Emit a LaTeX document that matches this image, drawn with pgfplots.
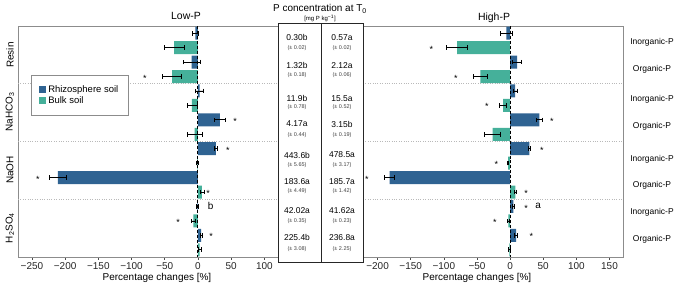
\documentclass[border=0pt]{standalone}
\usepackage{pgfplots}
\pgfplotsset{compat=1.18}
\usepackage{fontspec}
\setmainfont{Liberation Sans}
\definecolor{rhizo}{HTML}{2F6392}
\definecolor{bulk}{HTML}{45B09A}
\definecolor{framegray}{HTML}{8C8C8C}
\tikzset{ast/.style={font=\fontsize{9}{9}\selectfont, yshift=-1.5bp}}
\pgfplotsset{
  panel/.style={
    scale only axis, width=260bp, height=231bp,
    y dir=reverse, ymin=0, ymax=16,
    ytick=\empty,
    extra y ticks={4,8,12}, extra y tick labels={},
    extra y tick style={grid=major, major grid style={gray!55, dotted, line width=0.6pt}, major tick length=0pt},
    axis line style={framegray, line width=0.6pt},
    xtick pos=bottom, tick align=outside, major tick length=2.5bp,
    tick style={black!70, line width=0.5pt},
    xticklabel style={font=\fontsize{10}{12}\selectfont, text=black!85},
    xbar, bar width=0.9, bar shift=0pt,
    clip=false,
    legend image code/.code={\fill[##1] (0bp,-3.5bp) rectangle (7bp,3.5bp);},
  },
  err/.style={error bars/.cd, x dir=both, x explicit,
    error bar style={black, line width=0.8pt},
    error mark options={rotate=90, black, mark size=2.3bp, line width=0.8pt}},
}
\begin{document}
\begin{tikzpicture}
\useasboundingbox (0,0) rectangle (678bp,286bp);
% ---------- Low-P ----------
\begin{axis}[panel, at={(18bp,29bp)}, anchor=south west,
  xmin=-271, xmax=120.6,
  xtick={-250,-200,-150,-100,-50,0,50,100},
  xticklabels={−250,−200,−150,−100,−50,0,50,100},
  legend style={at={(0.05,0.788)}, anchor=north west, draw=framegray, line width=0.6pt,
    font=\fontsize{9.5}{10}\selectfont, inner xsep=8bp, inner ysep=8bp, row sep=-1bp},
  legend cell align=left]
\addplot[fill=rhizo, draw=none, err] coordinates {
 (-4,0.5) +- (5,0)
 (-9.5,2.5) +- (12.7,0)
 (2.5,4.5) +- (6,0)
 (33,6.5) +- (8,0)
 (27,8.5) +- (2,0)
 (-211,10.5) +- (13,0)
 (-1,12.5) +- (1,0)
 (5,14.5) +- (2,0)
};
\addlegendentry{Rhizosphere soil}
\addplot[fill=bulk, draw=none, err] coordinates {
 (-36,1.5) +- (15,0)
 (-39,3.5) +- (14.6,0)
 (-9,5.5) +- (7.5,0)
 (-5,7.5) +- (11,0)
 (-1,9.5) +- (1,0)
 (6,11.5) +- (3,0)
 (-7,13.5) +- (3,0)
 (2.5,15.5) +- (2,0)
};
\addlegendentry{Bulk soil}
\draw[black, line width=1.1pt, dash pattern=on 3pt off 2pt] (axis cs:0,0) -- (axis cs:0,16);
\node[ast] at (axis cs:-80,3.5) {*};
\node[ast] at (axis cs:56,6.5) {*};
\node[ast] at (axis cs:45,8.5) {*};
\node[ast] at (axis cs:-241,10.5) {*};
\node[ast] at (axis cs:15.5,11.5) {*};
\node[ast] at (axis cs:-30,13.5) {*};
\node[ast] at (axis cs:20,14.5) {*};
\node[font=\fontsize{10}{10}\selectfont] at (axis cs:19,12.45) {b};
\end{axis}
% ---------- High-P ----------
\begin{axis}[panel, at={(363bp,29bp)}, anchor=south west,
  xmin=-222, xmax=170.4,
  xtick={-200,-150,-100,-50,0,50,100,150},
  xticklabels={−200,−150,−100,−50,0,50,100,150}]
\addplot[fill=rhizo, draw=none, err] coordinates {
 (-5.5,0.5) +- (9,0)
 (10.5,2.5) +- (7,0)
 (7.5,4.5) +- (3,0)
 (44,6.5) +- (4,0)
 (29,8.5) +- (1.5,0)
 (-182,10.5) +- (7,0)
 (5,12.5) +- (2,0)
 (9,14.5) +- (2,0)
};
\addplot[fill=bulk, draw=none, err] coordinates {
 (-80,1.5) +- (16,0)
 (-45,3.5) +- (11,0)
 (-10.5,5.5) +- (5,0)
 (-26.5,7.5) +- (12,0)
 (-3,9.5) +- (1,0)
 (8,11.5) +- (2,0)
 (-2.5,13.5) +- (1,0)
 (-1,15.5) +- (1,0)
};
\draw[black, line width=1.1pt, dash pattern=on 3pt off 2pt] (axis cs:0,0) -- (axis cs:0,16);
\node[ast] at (axis cs:-119,1.5) {*};
\node[ast] at (axis cs:-82,3.5) {*};
\node[ast] at (axis cs:-35,5.5) {*};
\node[ast] at (axis cs:63,6.5) {*};
\node[ast] at (axis cs:48,8.5) {*};
\node[ast] at (axis cs:-20.6,9.5) {*};
\node[ast] at (axis cs:-216,10.5) {*};
\node[ast] at (axis cs:24,11.5) {*};
\node[ast] at (axis cs:24,12.5) {*};
\node[ast] at (axis cs:-23,13.5) {*};
\node[ast] at (axis cs:32,14.5) {*};
\node[font=\fontsize{10}{10}\selectfont] at (axis cs:42.5,12.45) {a};
\end{axis}
% ---------- centre table ----------
\draw[black!85, line width=0.8pt, fill=white] (278bp,24bp) rectangle (363bp,263bp);
\draw[black!85, line width=0.8pt] (321bp,24bp) -- (321bp,263bp);
\def\vf{\fontsize{8.5}{9}\selectfont}
\def\ef{\fontsize{5.5}{6}\selectfont\color{black!75}}
\foreach \a/\b/\c/\d/\yv/\ye in {
  0.30b/0.02/0.57a/0.02/37.7/47.7,
  1.32b/0.18/2.12a/0.06/65.3/75.3,
  11.9b/0.78/15.5a/0.52/98.3/107.3,
  4.17a/0.44/3.15b/0.19/124/134.7,
  443.6b/5.65/478.5a/3.17/155/165,
  183.6a/4.49/185.7a/1.42/181.3/190.7,
  42.02a/0.35/41.62a/0.23/210.7/221,
  225.4b/3.08/236.8a/2.25/237.3/249}{
  \node[font=\vf] at (297bp,{(286-\yv)*1bp}) {\a};
  \node[font=\ef] at (297bp,{(286-\ye)*1bp}) {(± \b)};
  \node[font=\vf] at (342bp,{(286-\yv)*1bp}) {\c};
  \node[font=\ef] at (342bp,{(286-\ye)*1bp}) {(± \d)};
}
% ---------- titles and labels ----------
\node[font=\fontsize{10}{12}\selectfont] at (320bp,277bp) {P concentration at T\textsubscript{0}};
\node[font=\fontsize{6}{7}\selectfont] at (320bp,267.5bp) {[mg P kg\textsuperscript{−1}]};
\node[font=\fontsize{10.5}{12}\selectfont] at (186bp,270bp) {Low-P};
\node[font=\fontsize{10.5}{12}\selectfont] at (494bp,268bp) {High-P};
\node[font=\fontsize{10}{12}\selectfont] at (157bp,8.5bp) {Percentage changes [\%]};
\node[font=\fontsize{10}{12}\selectfont] at (477bp,8.5bp) {Percentage changes [\%]};
\node[rotate=90, font=\fontsize{10}{12}\selectfont] at (10bp,231bp) {Resin};
\node[rotate=90, font=\fontsize{10}{12}\selectfont] at (10bp,174bp) {NaHCO\textsubscript{3}};
\node[rotate=90, font=\fontsize{10}{12}\selectfont] at (10bp,116bp) {NaOH};
\node[rotate=90, font=\fontsize{10}{12}\selectfont] at (10bp,58bp) {H\textsubscript{2}SO\textsubscript{4}};
\foreach \t/\yy in {Inorganic-P/42, Organic-P/69, Inorganic-P/99, Organic-P/126,
  Inorganic-P/159, Organic-P/185, Inorganic-P/212, Organic-P/239}{
  \node[font=\fontsize{8.5}{10}\selectfont] at (652bp,{(286-\yy)*1bp}) {\t};
}
\end{tikzpicture}
\end{document}
